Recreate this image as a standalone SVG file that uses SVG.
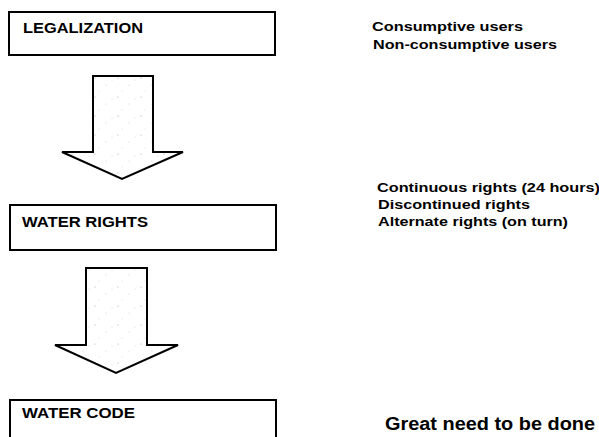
<svg xmlns="http://www.w3.org/2000/svg" width="599" height="437" viewBox="0 0 599 437">
<style>
.box{fill:#fff;stroke:#000;stroke-width:2}
.arrow{fill:url(#speckle);stroke:#000;stroke-width:2;stroke-linejoin:miter}
.lbl{font-family:"Liberation Sans",Arial,sans-serif;font-weight:bold;font-size:14px;fill:#000}
.note{font-family:"Liberation Sans",Arial,sans-serif;font-weight:bold;font-size:13px;fill:#000}
.big{font-family:"Liberation Sans",Arial,sans-serif;font-weight:bold;font-size:18px;fill:#000}
</style>
<defs>
<pattern id="speckle" width="23" height="19" patternUnits="userSpaceOnUse">
<rect width="23" height="19" fill="#fff"/>
<circle cx="3" cy="2" r="0.5" fill="#999"/>
<circle cx="14" cy="9" r="0.45" fill="#aaa"/>
<circle cx="7" cy="15" r="0.4" fill="#bbb"/>
<circle cx="20" cy="4" r="0.4" fill="#aaa"/>
</pattern>
</defs>
<rect width="599" height="437" fill="#fff"/>
<g id="legalization">
<rect class="box" x="9" y="12" width="266" height="43"/>
<text class="lbl" x="23" y="33" textLength="120" lengthAdjust="spacingAndGlyphs">LEGALIZATION</text>
</g>
<g id="water-rights">
<rect class="box" x="10" y="205" width="266" height="45"/>
<text class="lbl" x="22" y="227" textLength="126" lengthAdjust="spacingAndGlyphs">WATER RIGHTS</text>
</g>
<g id="water-code">
<rect class="box" x="10" y="400" width="266" height="45"/>
<text class="lbl" x="22" y="418" textLength="113" lengthAdjust="spacingAndGlyphs">WATER CODE</text>
</g>
<g id="connectors">
<polygon class="arrow" points="93,76 153,76 153,152 183,152 122,179 62,152 93,152"/>
<polygon class="arrow" points="86,268 147,268 147,345 178,345 116,373 55,345 86,345"/>
</g>
<g id="legalization-notes">
<text class="note" x="372" y="31" textLength="151" lengthAdjust="spacingAndGlyphs">Consumptive users</text>
<text class="note" x="373" y="49" textLength="184" lengthAdjust="spacingAndGlyphs">Non-consumptive users</text>
</g>
<g id="water-rights-notes">
<text class="note" x="377" y="192" textLength="223" lengthAdjust="spacingAndGlyphs">Continuous rights (24 hours)</text>
<text class="note" x="378" y="209" textLength="152" lengthAdjust="spacingAndGlyphs">Discontinued rights</text>
<text class="note" x="378" y="226" textLength="190" lengthAdjust="spacingAndGlyphs">Alternate rights (on turn)</text>
</g>
<g id="water-code-note">
<text class="big" x="385" y="430" textLength="210" lengthAdjust="spacingAndGlyphs">Great need to be done</text>
</g>
</svg>
